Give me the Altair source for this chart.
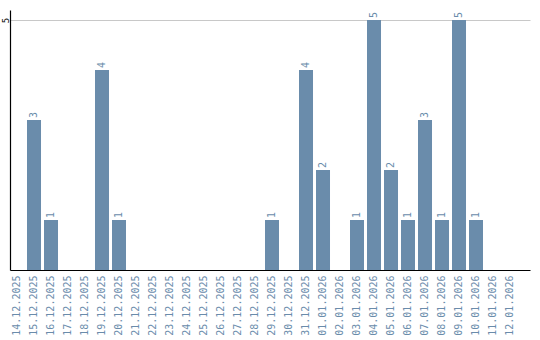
import altair as alt
import pandas as pd

dates = ["14.12.2025", "15.12.2025", "16.12.2025", "17.12.2025", "18.12.2025",
         "19.12.2025", "20.12.2025", "21.12.2025", "22.12.2025", "23.12.2025",
         "24.12.2025", "25.12.2025", "26.12.2025", "27.12.2025", "28.12.2025",
         "29.12.2025", "30.12.2025", "31.12.2025", "01.01.2026", "02.01.2026",
         "03.01.2026", "04.01.2026", "05.01.2026", "06.01.2026", "07.01.2026",
         "08.01.2026", "09.01.2026", "10.01.2026", "11.01.2026", "12.01.2026"]
counts = [0, 3, 1, 0, 0, 4, 1, 0, 0, 0,
          0, 0, 0, 0, 0, 1, 0, 4, 2, 0,
          1, 5, 2, 1, 3, 1, 5, 1, 0, 0]

df = pd.DataFrame({"date": dates, "count": counts})

BAR = "#6a8cab"
FONT = "DejaVu Sans Mono"

x = alt.X("date:N", sort=dates,
          scale=alt.Scale(domain=dates, paddingInner=0.176, paddingOuter=0.382, align=0),
          axis=alt.Axis(title=None, labelAngle=-90, labelColor=BAR, labelFont=FONT,
                        labelFontSize=10, ticks=False, domainColor="#000", domainWidth=1.2,
                        labelPadding=5, grid=False))
y = alt.Y("count:Q", scale=alt.Scale(domain=[0, 5.2], nice=False),
          axis=alt.Axis(title=None, values=[5], labelAngle=-90, labelFont=FONT,
                        labelFontSize=9, labelColor="#000", ticks=False,
                        domainColor="#000", domainWidth=1.2, gridColor="#c8c8c8",
                        labelPadding=5, labelAlign="center", labelBaseline="middle"))

bars = alt.Chart(df).mark_bar(color=BAR).encode(x=x, y=y)
labels = alt.Chart(df).transform_filter("datum.count > 0").mark_text(
    angle=270, align="left", baseline="middle", dx=2, color=BAR, font=FONT, fontSize=10
).encode(x=alt.X("date:N", sort=dates), y="count:Q", text="count:Q")

chart = (bars + labels).properties(
    width=520, height=260,
    autosize=alt.AutoSizeParams(type="none"),
    padding={"left": 10, "top": 10, "right": 10, "bottom": 70},
    background="white",
).configure_view(stroke=None)

chart.save("out.html", embed_options={"renderer": "svg", "actions": False})
